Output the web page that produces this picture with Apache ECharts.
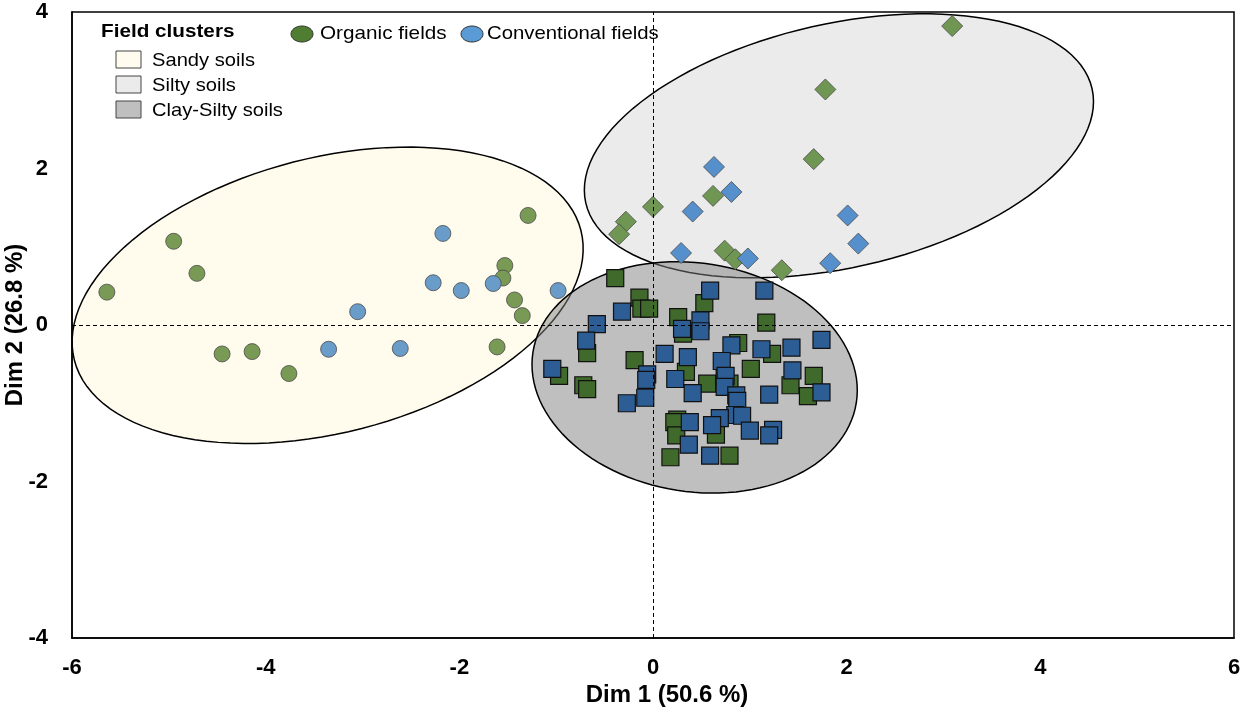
<!DOCTYPE html>
<html>
<head>
<meta charset="utf-8">
<script src="https://cdn.jsdelivr.net/npm/echarts@6/dist/echarts.min.js"></script>
<style>
  html, body { margin: 0; padding: 0; background: #fff; }
  #chart { width: 1242px; height: 713px; }
</style>
</head>
<body>
<div id="chart"></div>
<script>
// field scores on the first two dimensions [dim1, dim2]
var sandyOrganic = [[-5.64, 0.42], [-4.95, 1.07], [-4.71, 0.66], [-4.45, -0.37], [-4.14, -0.34], [-3.76, -0.62],
  [-1.29, 1.40], [-1.53, 0.76], [-1.55, 0.60], [-1.43, 0.32], [-1.35, 0.12], [-1.61, -0.28]];
var sandyConventional = [[-2.17, 1.17], [-2.27, 0.54], [-1.98, 0.44], [-1.65, 0.53], [-0.98, 0.44], [-3.05, 0.17],
  [-3.35, -0.31], [-2.61, -0.30]];
var siltyOrganic = [[3.09, 3.82], [1.78, 3.01], [1.66, 2.12], [0.00, 1.51], [-0.28, 1.32], [-0.35, 1.16],
  [0.62, 1.65], [0.74, 0.95], [0.85, 0.84], [1.33, 0.70]];
var siltyConventional = [[0.63, 2.02], [0.81, 1.70], [0.41, 1.45], [2.01, 1.40], [2.12, 1.04], [0.29, 0.92],
  [0.98, 0.85], [1.83, 0.79]];
var clayOrganic = [[-0.39, 0.60], [-0.14, 0.35], [-0.12, 0.21], [-0.04, 0.21], [0.53, 0.28], [0.26, 0.10],
  [0.31, -0.11], [1.17, 0.03], [-0.68, -0.36], [-0.97, -0.65], [-0.72, -0.77], [-0.68, -0.82], [-0.19, -0.45],
  [0.34, -0.60], [0.56, -0.75], [0.88, -0.23], [1.23, -0.37], [1.01, -0.56], [0.74, -0.66], [0.79, -0.75],
  [1.42, -0.77], [1.66, -0.65], [1.60, -0.91], [0.25, -1.21], [0.22, -1.24], [0.24, -1.41], [0.65, -1.40],
  [0.18, -1.69], [0.79, -1.67]];
var clayConventional = [[0.59, 0.44], [1.15, 0.44], [-0.32, 0.17], [-0.58, 0.01], [0.49, 0.06], [0.30, -0.05],
  [0.49, -0.08], [-0.69, -0.20], [-1.04, -0.56], [1.74, -0.19], [0.81, -0.26], [1.12, -0.31], [1.43, -0.29],
  [0.12, -0.37], [0.36, -0.41], [0.71, -0.46], [1.44, -0.58], [-0.06, -0.63], [-0.07, -0.70], [0.23, -0.69],
  [0.75, -0.65], [0.74, -0.79], [0.41, -0.87], [-0.08, -0.93], [-0.27, -1.00], [0.86, -0.90], [0.87, -0.97],
  [1.20, -0.89], [1.74, -0.86], [0.85, -1.15], [0.92, -1.16], [0.69, -1.19], [0.61, -1.28], [0.38, -1.24],
  [1.00, -1.35], [1.24, -1.34], [1.20, -1.41], [0.37, -1.53], [0.59, -1.67]];

// cluster ellipses: centre, semi-axes (in dim 1 units), tilt in degrees
var clusterNames = ['Sandy soils', 'Silty soils', 'Clay-Silty soils'];
var clusterCenters = [[-3.36, 0.38], [1.92, 2.29], [0.43, -0.67]];
var clusterAxes = [[2.70, 1.42], [2.68, 1.26], [1.69, 1.18]];
var clusterAngles = [14.4, 12.7, -8.9];

var xTicks = [-6, 6, 2];
var yTicks = [-4, 4, 2];

var clusterFills = ['rgba(255,245,200,0.3)', 'rgba(215,215,215,0.5)', 'rgba(128,128,128,0.5)'];
var legendFills = ['#fffcef', '#ebebeb', '#bfbfbf'];
var font = "'Liberation Sans', Arial, sans-serif";

var ellipseData = clusterCenters.map(function (c, i) {
  return [c[0], c[1], clusterAxes[i][0], clusterAxes[i][1], clusterAngles[i]];
});

function renderEllipse(params, api) {
  var c = api.coord([api.value(0), api.value(1)]);
  var k = api.size([1, 1])[0];
  var a = api.value(2) * k, b = api.value(3) * k;
  var ang = api.value(4) * Math.PI / 180;
  var pts = [];
  for (var i = 0; i < 120; i++) {
    var t = i / 120 * Math.PI * 2;
    var ex = a * Math.cos(t), ey = b * Math.sin(t);
    pts.push([c[0] + ex * Math.cos(ang) - ey * Math.sin(ang),
              c[1] - (ex * Math.sin(ang) + ey * Math.cos(ang))]);
  }
  return {
    type: 'polygon',
    shape: { points: pts },
    style: { fill: clusterFills[params.dataIndex], stroke: '#000', lineWidth: 1.5 }
  };
}

function pointSeries(name, data, symbol, size, color, border, bw) {
  return {
    name: name,
    type: 'scatter',
    data: data,
    symbol: symbol,
    symbolSize: size,
    z: 3,
    itemStyle: { color: color, borderColor: border, borderWidth: bw, opacity: 1 },
    emphasis: { disabled: true }
  };
}

var chart = echarts.init(document.getElementById('chart'));

var series = [
  {
    type: 'custom',
    renderItem: renderEllipse,
    data: ellipseData,
    z: 1,
    silent: true
  },
  pointSeries('Sandy organic', sandyOrganic, 'circle', 16, '#789a55', '#4a4a4a', 0.8),
  pointSeries('Sandy conventional', sandyConventional, 'circle', 16, '#6a9cca', '#4a4a4a', 0.8),
  pointSeries('Silty organic', siltyOrganic, 'diamond', 21, '#6f9652', '#4a4a4a', 0.8),
  pointSeries('Silty conventional', siltyConventional, 'diamond', 21, '#5590cc', '#4a4a4a', 0.8),
  pointSeries('Clay organic', clayOrganic, 'rect', 17, '#3f6a2b', '#111', 1.2),
  pointSeries('Clay conventional', clayConventional, 'rect', 17, '#2c5d94', '#111', 1.2)
];

series[series.length - 1].markLine = {
  silent: true,
  symbol: 'none',
  label: { show: false },
  lineStyle: { color: '#000', type: [4, 3], width: 1 },
  data: [{ xAxis: 0 }, { yAxis: 0 }]
};

var legendItems = [
  { type: 'text', x: 101, y: 32, scaleX: 1.15,
    style: { text: 'Field clusters', font: 'bold 18px ' + font, fill: '#000', verticalAlign: 'middle' } },
  { type: 'ellipse', shape: { cx: 302, cy: 34, rx: 11, ry: 8 },
    style: { fill: '#4f7d31', stroke: '#333', lineWidth: 1 } },
  { type: 'text', x: 320, y: 34, scaleX: 1.09,
    style: { text: 'Organic fields', font: '19px ' + font, fill: '#000', verticalAlign: 'middle' } },
  { type: 'ellipse', shape: { cx: 472, cy: 34, rx: 11, ry: 8 },
    style: { fill: '#5b9bd5', stroke: '#333', lineWidth: 1 } },
  { type: 'text', x: 487, y: 34, scaleX: 1.07,
    style: { text: 'Conventional fields', font: '19px ' + font, fill: '#000', verticalAlign: 'middle' } }
];
var rowY = [60, 85, 110];
clusterNames.forEach(function (n, i) {
  legendItems.push({ type: 'rect', shape: { x: 116, y: rowY[i] - 9, width: 25, height: 17 },
    style: { fill: legendFills[i], stroke: '#444', lineWidth: 1 } });
  legendItems.push({ type: 'text', x: 152, y: rowY[i] + 1, scaleX: 1.06,
    style: { text: n, font: '19px ' + font, fill: '#000', verticalAlign: 'middle' } });
});

var option = {
  animation: false,
  backgroundColor: '#fff',
  grid: {
    left: 72,
    right: 8,
    top: 12,
    bottom: 75,
    containLabel: false,
    outerBoundsMode: 'none',
    show: true,
    borderColor: '#000',
    borderWidth: 1.5,
    backgroundColor: 'transparent'
  },
  xAxis: {
    type: 'value',
    min: xTicks[0],
    max: xTicks[1],
    interval: xTicks[2],
    name: 'Dim 1 (50.6 %)',
    nameLocation: 'middle',
    nameGap: 45,
    nameMoveOverlap: false,
    nameTextStyle: { fontFamily: font, fontWeight: 'bold', fontSize: 24, color: '#000', padding: [0, 0, 0, 28] },
    axisLine: { show: true, onZero: false, lineStyle: { color: '#000', width: 1.5 } },
    axisTick: { show: false },
    splitLine: { show: false },
    axisLabel: { margin: 19, fontFamily: font, fontWeight: 'bold', fontSize: 22, color: '#000' }
  },
  yAxis: {
    type: 'value',
    min: yTicks[0],
    max: yTicks[1],
    interval: yTicks[2],
    name: 'Dim 2 (26.8 %)',
    nameLocation: 'middle',
    nameGap: 45,
    nameMoveOverlap: false,
    nameRotate: 90,
    nameTextStyle: { fontFamily: font, fontWeight: 'bold', fontSize: 24, color: '#000' },
    axisLine: { show: true, onZero: false, lineStyle: { color: '#000', width: 1.5 } },
    axisTick: { show: false },
    splitLine: { show: false },
    axisLabel: { margin: 24, fontFamily: font, fontWeight: 'bold', fontSize: 22, color: '#000' }
  },
  graphic: legendItems,
  series: series
};

chart.setOption(option);
window.addEventListener('resize', function () {
  chart.resize();
});
</script>
</body>
</html>
